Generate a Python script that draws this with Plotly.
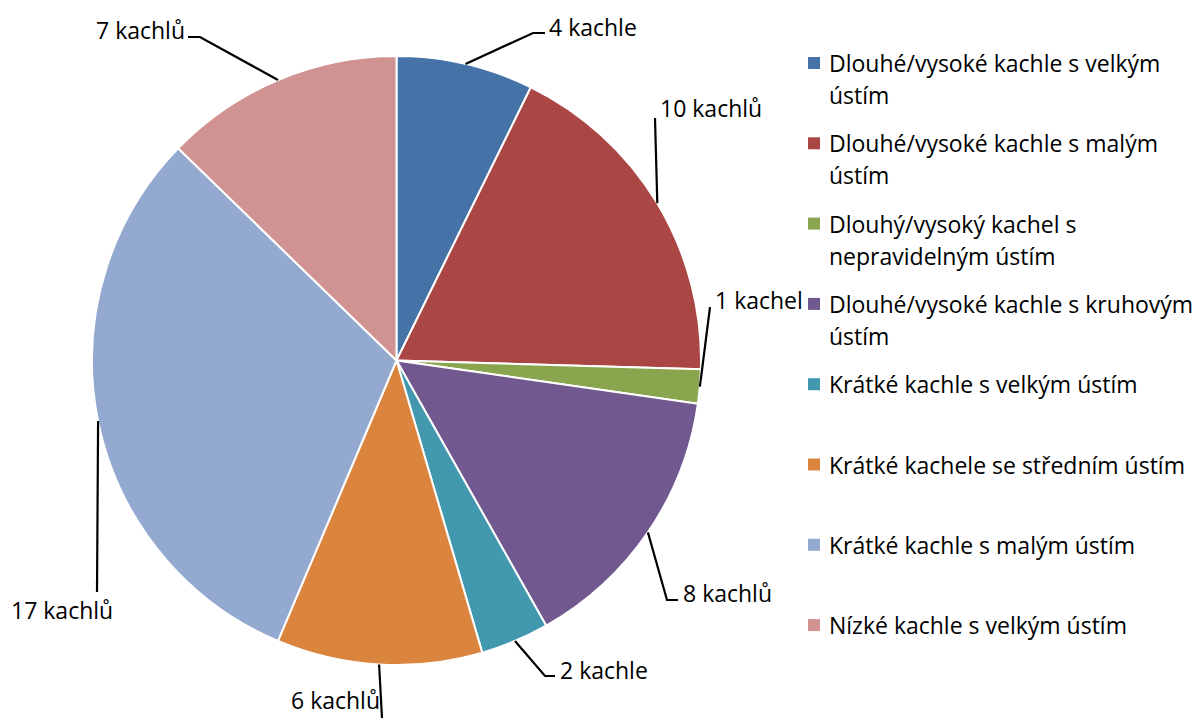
import math
import plotly.graph_objects as go

# data
labels = [
    "Dlouhé/vysoké kachle s velkým ústím",
    "Dlouhé/vysoké kachle s malým ústím",
    "Dlouhý/vysoký kachel s nepravidelným ústím",
    "Dlouhé/vysoké kachle s kruhovým ústím",
    "Krátké kachle s velkým ústím",
    "Krátké kachele se středním ústím",
    "Krátké kachle s malým ústím",
    "Nízké kachle s velkým ústím",
]
legend_lines = [
    ["Dlouhé/vysoké kachle s velkým", "ústím"],
    ["Dlouhé/vysoké kachle s malým", "ústím"],
    ["Dlouhý/vysoký kachel s", "nepravidelným ústím"],
    ["Dlouhé/vysoké kachle s kruhovým", "ústím"],
    ["Krátké kachle s velkým ústím"],
    ["Krátké kachele se středním ústím"],
    ["Krátké kachle s malým ústím"],
    ["Nízké kachle s velkým ústím"],
]
values = [4, 10, 1, 8, 2, 6, 17, 7]
value_text = ["4 kachle", "10 kachlů", "1 kachel", "8 kachlů",
              "2 kachle", "6 kachlů", "17 kachlů", "7 kachlů"]
colors = ["#4572A7", "#AA4643", "#89A54E", "#71588F",
          "#4198AF", "#DB843D", "#93A9CF", "#D19392"]

W, H = 1201, 718
FONT = "Open Sans"
FS = 23

# pie geometry in pixels
cx, cy, r = 396.5, 360.5, 304.5

# label elbow points (pixel) and text anchors, hand-placed like the original
label_style = [
    # elbow, end of horizontal, text x, text y, xanchor
    ((533, 33), (545, 33), 547, 27, "left"),
    ((655, 118), None, 658, 108, "left"),
    ((710, 307), None, 713, 300, "left"),
    ((667, 600), (678, 600), 681, 593, "left"),
    ((545, 676), (555, 676), 558, 670, "left"),
    ((382, 718), None, 382, 700, "right"),
    ((97, 592), None, 62, 610, "center"),
    ((200, 37), (188, 37), 187, 30, "right"),
]

fig = go.Figure()
fig.add_trace(go.Pie(
    labels=labels, values=values, sort=False, direction="clockwise",
    rotation=0, textinfo="none", hoverinfo="label+value",
    marker=dict(colors=colors, line=dict(color="white", width=2)),
    domain=dict(x=[(cx - r) / W, (cx + r) / W],
                y=[(H - cy - r) / H, (H - cy + r) / H]),
    showlegend=False,
))

shapes = []
annotations = []
total = sum(values)
cum = 0
for v, txt, st in zip(values, value_text, label_style):
    mid = (cum + v / 2) / total * 2 * math.pi
    cum += v
    ex = cx + r * math.sin(mid)
    ey = cy - r * math.cos(mid)
    elbow, end, tx, ty, anchor = st
    path = f"M {ex:.1f},{ey:.1f} L {elbow[0]},{elbow[1]}"
    if end is not None:
        path += f" L {end[0]},{end[1]}"
    shapes.append(dict(type="path", xref="x", yref="y", path=path,
                       line=dict(color="black", width=2.2), layer="above"))
    annotations.append(dict(x=tx, y=ty, xref="x", yref="y", text=txt,
                            showarrow=False, xanchor=anchor, yanchor="middle",
                            font=dict(family=FONT, size=FS, color="black")))

# legend built by hand to keep the original's spacing
ly0, lstep, lline = 63, 80.3, 32
for i, (lines, col) in enumerate(zip(legend_lines, colors)):
    y = ly0 + i * lstep
    shapes.append(dict(type="rect", xref="x", yref="y",
                       x0=808, x1=820, y0=y - 6, y1=y + 6,
                       fillcolor=col, line=dict(width=0)))
    for j, line in enumerate(lines):
        annotations.append(dict(x=827, y=y + j * lline, xref="x", yref="y",
                                text=line, showarrow=False, xanchor="left",
                                yanchor="middle",
                                font=dict(family=FONT, size=FS, color="black")))

fig.update_layout(
    width=W, height=H,
    margin=dict(l=0, r=0, t=0, b=0),
    paper_bgcolor="white", plot_bgcolor="rgba(0,0,0,0)",
    xaxis=dict(range=[0, W], visible=False, domain=[0, 1], fixedrange=True),
    yaxis=dict(range=[H, 0], visible=False, domain=[0, 1], fixedrange=True),
    shapes=shapes, annotations=annotations,
)

fig.write_html("out.html", config={"displayModeBar": False},
               post_script="document.body.style.margin='0';"
                           "document.body.style.overflow='hidden';")
